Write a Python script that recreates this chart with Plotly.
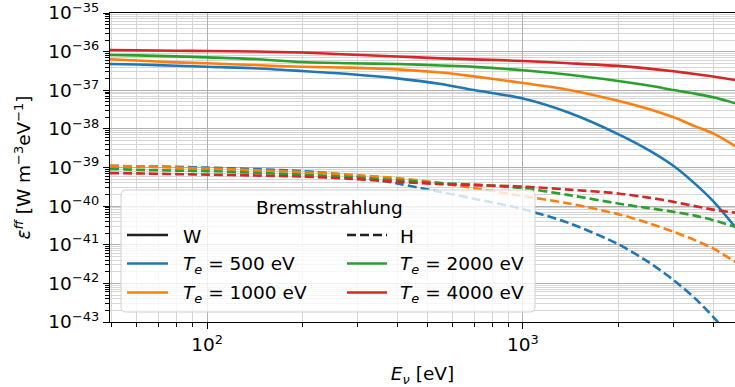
import math
import plotly.graph_objects as go

# ---------------- data ----------------
energy_eV = [49.3, 60, 80, 100, 140, 200, 280, 400, 550, 700, 1000, 1400,
             2000, 2500, 3000, 3500, 4000, 4700]

temps_eV = [500, 1000, 2000, 4000]
colors = ['#1f77b4', '#ff7f0e', '#2ca02c', '#d62728']

# Tungsten (W) bremsstrahlung emissivity [W m^-3 eV^-1]
W_500 = [4.78e-37, 4.63e-37, 4.32e-37, 4.06e-37, 3.72e-37, 3.14e-37, 2.63e-37,
         2.03e-37, 1.45e-37, 1.01e-37, 6.10e-38, 2.61e-38, 7.33e-39, 2.82e-39,
         1.09e-39, 3.83e-40, 1.35e-40, 2.86e-41]
W_1000 = [6.32e-37, 5.87e-37, 5.28e-37, 4.98e-37, 4.50e-37, 4.06e-37, 3.85e-37,
          3.48e-37, 2.88e-37, 2.29e-37, 1.54e-37, 1.02e-37, 5.35e-38, 3.27e-38,
          1.99e-38, 1.18e-38, 7.64e-39, 3.58e-39]
W_2000 = [8.17e-37, 7.98e-37, 7.55e-37, 7.11e-37, 6.43e-37, 5.38e-37, 5.00e-37,
          4.78e-37, 4.37e-37, 4.04e-37, 3.28e-37, 2.51e-37, 1.73e-37, 1.32e-37,
          1.01e-37, 8.13e-38, 6.55e-38, 4.58e-38]
W_4000 = [1.099e-36, 1.081e-36, 1.054e-36, 1.038e-36, 1.007e-36, 9.48e-37, 8.41e-37,
          7.46e-37, 6.70e-37, 6.31e-37, 5.71e-37, 5.01e-37, 4.27e-37, 3.63e-37,
          3.09e-37, 2.63e-37, 2.26e-37, 1.84e-37]

# Hydrogen (H) bremsstrahlung emissivity [W m^-3 eV^-1]
H_500 = [1.09e-39, 1.07e-39, 1.04e-39, 9.93e-40, 9.10e-40, 8.07e-40, 6.35e-40,
         3.87e-40, 2.31e-40, 1.56e-40, 8.36e-41, 3.63e-41, 1.04e-41, 3.54e-42,
         1.21e-42, 4.14e-43, 1.36e-43, 3.0e-44]
H_1000 = [1.12e-39, 1.07e-39, 9.93e-40, 9.38e-40, 8.57e-40, 7.60e-40, 6.55e-40,
          5.31e-40, 3.94e-40, 2.92e-40, 1.82e-40, 1.17e-40, 6.21e-41, 3.63e-41,
          2.16e-41, 1.32e-41, 8.02e-42, 3.61e-42]
H_2000 = [9.10e-40, 8.77e-40, 8.32e-40, 8.07e-40, 7.38e-40, 6.55e-40, 5.64e-40,
          4.72e-40, 3.94e-40, 3.61e-40, 2.92e-40, 1.93e-40, 1.17e-40, 8.87e-41,
          7.11e-41, 5.68e-41, 4.34e-41, 2.91e-41]
H_4000 = [7.16e-40, 7.03e-40, 6.75e-40, 6.55e-40, 6.24e-40, 5.81e-40, 5.15e-40,
          4.27e-40, 3.72e-40, 3.50e-40, 3.20e-40, 2.67e-40, 2.13e-40, 1.66e-40,
          1.29e-40, 1.00e-40, 8.13e-41, 6.76e-41]

W_series = [W_500, W_1000, W_2000, W_4000]
H_series = [H_500, H_1000, H_2000, H_4000]

x_major = [100, 1000]
x_major_text = ['10<sup>2</sup>', '10<sup>3</sup>']
x_minor = [50, 60, 70, 80, 90, 200, 300, 400, 500, 600, 700, 800, 900,
           2000, 3000, 4000]
y_exponents = list(range(-43, -34))
legend_title = 'Bremsstrahlung'

# ---------------- figure ----------------
W, Hh = 735, 387
ML, MR, MT, MB = 110, 0, 13, 65
PW, PH = W - ML - MR, Hh - MT - MB
FS = 18.5

fig = go.Figure()
LW = 2.6
for vals, col in zip(W_series, colors):
    fig.add_trace(go.Scatter(x=energy_eV, y=vals, mode='lines',
                             line=dict(color=col, width=LW, shape='spline', smoothing=0.8),
                             showlegend=False))
for vals, col in zip(H_series, colors):
    fig.add_trace(go.Scatter(x=energy_eV, y=vals, mode='lines',
                             line=dict(color=col, width=LW, dash='9px,4px',
                                       shape='spline', smoothing=0.8),
                             showlegend=False))

y_major = [10.0 ** e for e in y_exponents]
y_major_text = ['10<sup>\u2212%d</sup>' % (-e) for e in y_exponents]
y_minor = [k * 10.0 ** e for e in y_exponents[:-1] for k in range(2, 10)]

MAJ_GRID = '#b0b0b0'
MIN_GRID = '#d6d6d6'

fig.update_xaxes(
    type='log', range=[math.log10(49.3), math.log10(4690)],
    tickmode='array', tickvals=x_major, ticktext=x_major_text,
    ticks='outside', ticklen=6, tickwidth=1, tickcolor='black',
    showline=True, linecolor='black', linewidth=1.2, mirror=True,
    showgrid=True, gridcolor=MAJ_GRID, gridwidth=1,
    minor=dict(tickmode='array', tickvals=x_minor, ticks='outside', ticklen=3.5,
               tickcolor='black', showgrid=True, gridcolor=MIN_GRID, gridwidth=1),
    tickfont=dict(size=FS), ticklabeloverflow='allow',
    title=dict(text='<i>E</i><sub><i>\u03bd</i></sub> [eV]', font=dict(size=FS), standoff=13),
)
fig.update_yaxes(
    type='log', range=[-43, -35],
    tickmode='array', tickvals=y_major, ticktext=y_major_text,
    ticks='outside', ticklen=6, tickwidth=1, tickcolor='black',
    showline=True, linecolor='black', linewidth=1.2,
    showgrid=True, gridcolor=MAJ_GRID, gridwidth=1,
    minor=dict(tickmode='array', tickvals=y_minor, ticks='outside', ticklen=3.5,
               tickcolor='black', showgrid=True, gridcolor=MIN_GRID, gridwidth=1),
    tickfont=dict(size=FS), ticklabeloverflow='allow',
    title=dict(text='<i>\u03b5</i><sup><i>ff</i></sup> [W m<sup>\u22123</sup>eV<sup>\u22121</sup>]',
               font=dict(size=FS), standoff=12),
)


def px2x(px):
    return (px - ML) / PW


def py2y(py):
    return (Hh - MB - py) / PH


shapes = []
annotations = []

# legend box (rounded)
bx0, bx1, by0, by1, r = 121, 535, 190, 312, 5
path = ('M {a},{b} L {c},{b} Q {d},{b} {d},{e} L {d},{f} Q {d},{g} {c},{g} '
        'L {a},{g} Q {h},{g} {h},{f} L {h},{e} Q {h},{b} {a},{b} Z').format(
    a=px2x(bx0 + r), b=py2y(by0), c=px2x(bx1 - r), d=px2x(bx1),
    e=py2y(by0 + r), f=py2y(by1 - r), g=py2y(by1), h=px2x(bx0))
shapes.append(dict(type='path', xref='paper', yref='paper', path=path,
                   fillcolor='rgba(255,255,255,0.8)',
                   line=dict(color='#d0d0d0', width=1), layer='above'))

annotations.append(dict(text=legend_title, x=px2x(329), y=py2y(207), xref='paper',
                        yref='paper', showarrow=False, xanchor='center',
                        yanchor='middle', font=dict(size=FS)))

col_x = [(127, 168, 181), (347, 387, 398)]
row_y = [235, 263.5, 292.5]
entries = [
    ('W', '#222222', 'solid', 0, 0),
    ('H', '#222222', '9px,4px', 1, 0),
]
entry_pos = [(0, 1), (0, 2), (1, 1), (1, 2)]
for t, col, (c, rr) in zip(temps_eV, colors, entry_pos):
    entries.append(('<i>T</i><sub><i>e</i></sub> = %d eV' % t, col, 'solid', c, rr))

for text, col, dash, c, rr in entries:
    x0, x1, xt = col_x[c]
    yy = row_y[rr]
    shapes.append(dict(type='line', xref='paper', yref='paper',
                       x0=px2x(x0), x1=px2x(x1), y0=py2y(yy), y1=py2y(yy),
                       line=dict(color=col, width=LW, dash=dash), layer='above'))
    annotations.append(dict(text=text, x=px2x(xt), y=py2y(yy + 1), xref='paper',
                            yref='paper', showarrow=False, xanchor='left',
                            yanchor='middle', font=dict(size=FS)))

fig.update_layout(
    width=W, height=Hh,
    margin=dict(l=ML, r=MR, t=MT, b=MB, pad=0),
    plot_bgcolor='white', paper_bgcolor='white',
    font=dict(family='DejaVu Sans', size=FS, color='black'),
    showlegend=False,
    shapes=shapes, annotations=annotations,
)

fig.write_html('out.html')
